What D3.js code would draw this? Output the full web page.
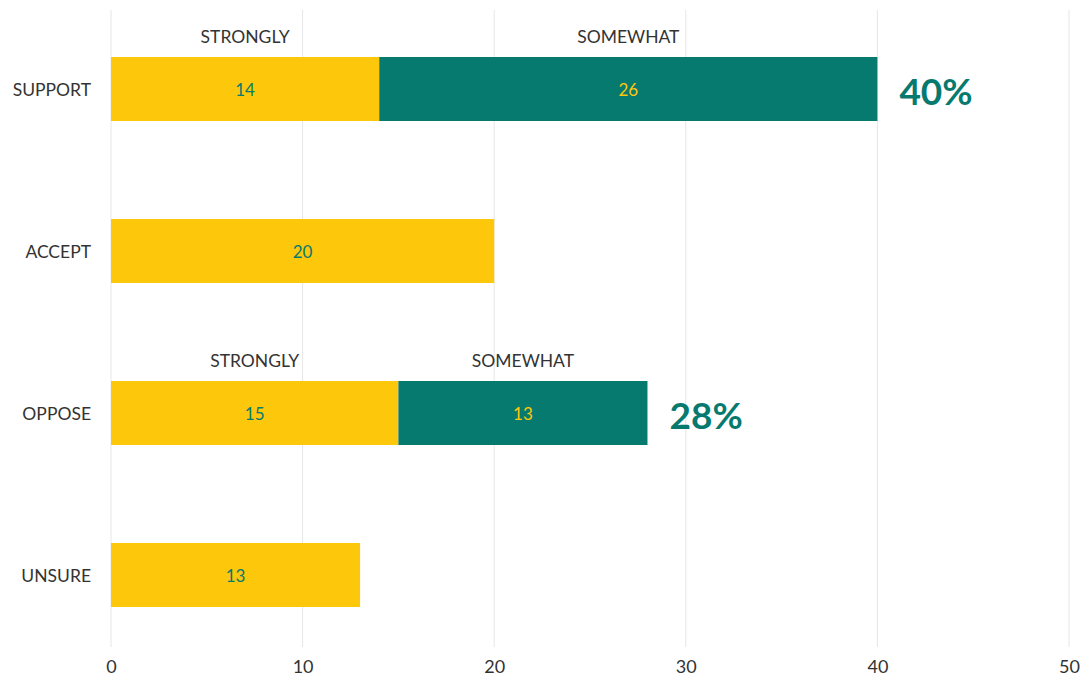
<!DOCTYPE html>
<html>
<head>
<meta charset="utf-8">
<script src="https://cdn.jsdelivr.net/npm/d3@7"></script>
<style>
    body { margin: 0; background: #fff; }
    svg text { font-family: Lato, "Open Sans", sans-serif; }
</style>
</head>
<body>
<svg id="chart" width="1082" height="678"></svg>
<script>
// Data
const categories = ["SUPPORT", "ACCEPT", "OPPOSE", "UNSURE"];
const strongly = [14, 20, 15, 13];
const somewhat = [26, 0, 13, 0];
const totals = ["40%", null, "28%", null];
const segmentNames = ["STRONGLY", "SOMEWHAT"];
const xTicks = [0, 10, 20, 30, 40, 50];

const yellow = "#fdc70c";
const teal = "#077a6f";

let svg = d3.select("#chart");

let scale = {
    x: d3.scaleLinear().domain([0, 50]).range([111, 1069]),
    y: d3.scaleBand().domain(categories).range([8, 656]).paddingInner(0.605).paddingOuter(0.3025)
};

// Vertical gridlines
svg.append("g")
    .selectAll("line")
    .data(xTicks)
    .enter()
    .append("line")
    .attr("x1", d => scale.x(d))
    .attr("x2", d => scale.x(d))
    .attr("y1", 10)
    .attr("y2", 647)
    .attr("stroke", "#e6e6e6")
    .attr("stroke-width", 1);

// X axis labels
let xAxis = d3.axisBottom(scale.x).tickValues(xTicks).tickSize(0).tickPadding(0);
svg.append("g")
    .attr("transform", "translate(0, 660)")
    .call(xAxis)
    .call(g => g.select(".domain").remove())
    .selectAll("text")
    .attr("font-size", 18)
    .attr("fill", "#333")
    .style("font-family", "Lato, sans-serif");

// Y axis labels
let yAxis = d3.axisLeft(scale.y).tickSize(0).tickPadding(20);
svg.append("g")
    .attr("transform", `translate(${scale.x(0)}, 1)`)
    .call(yAxis)
    .call(g => g.select(".domain").remove())
    .selectAll("text")
    .attr("font-size", 17.5)
    .attr("fill", "#333")
    .style("font-family", "Lato, sans-serif");

// Build segment rows
let rows = categories.map((c, i) => ({
    cat: c,
    segs: [
        {name: segmentNames[0], x0: 0, x1: strongly[i], v: strongly[i], fill: yellow, text: teal},
        {name: segmentNames[1], x0: strongly[i], x1: strongly[i] + somewhat[i], v: somewhat[i], fill: teal, text: yellow}
    ].filter(s => s.v > 0),
    total: totals[i]
}));

let rowGroups = svg.selectAll("g.row")
    .data(rows)
    .enter()
    .append("g")
    .attr("class", "row");

let bw = scale.y.bandwidth();

let segs = rowGroups.selectAll("g.seg")
    .data(d => d.segs.map(s => Object.assign({cat: d.cat, stacked: d.segs.length > 1}, s)))
    .enter()
    .append("g")
    .attr("class", "seg");

segs.append("rect")
    .attr("x", d => scale.x(d.x0))
    .attr("y", d => scale.y(d.cat))
    .attr("width", d => scale.x(d.x1) - scale.x(d.x0))
    .attr("height", bw)
    .attr("fill", d => d.fill);

segs.append("text")
    .attr("x", d => (scale.x(d.x0) + scale.x(d.x1)) / 2)
    .attr("y", d => scale.y(d.cat) + bw / 2 + 1)
    .attr("dy", "0.35em")
    .attr("text-anchor", "middle")
    .attr("font-size", 17)
    .attr("fill", d => d.text)
    .text(d => d.v);

// Segment names above stacked bars
segs.filter(d => d.stacked)
    .append("text")
    .attr("x", d => (scale.x(d.x0) + scale.x(d.x1)) / 2)
    .attr("y", d => scale.y(d.cat) - 20)
    .attr("dy", "0.35em")
    .attr("text-anchor", "middle")
    .attr("font-size", 17.5)
    .attr("fill", "#333")
    .text(d => d.name);

// Totals to the right of stacked bars
rowGroups.filter(d => d.total)
    .append("text")
    .attr("x", d => scale.x(d3.max(d.segs, s => s.x1)) + 22)
    .attr("y", d => scale.y(d.cat) + bw / 2 + 3)
    .attr("dy", "0.35em")
    .attr("font-size", 37)
    .attr("font-weight", "bold")
    .attr("fill", teal)
    .text(d => d.total);
</script>
</body>
</html>
